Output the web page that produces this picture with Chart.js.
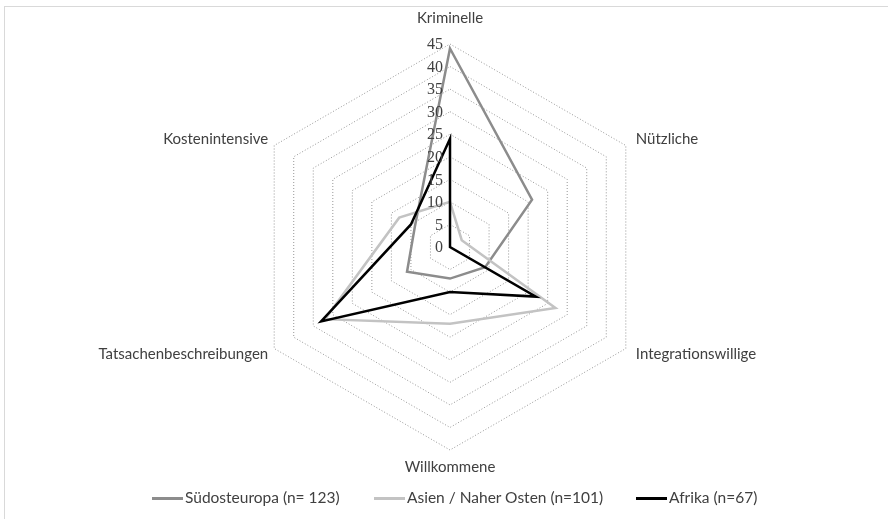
<!DOCTYPE html>
<html>
<head>
<meta charset="utf-8">
<script src="https://cdn.jsdelivr.net/npm/chart.js@4.4.1/dist/chart.umd.min.js"></script>
<style>
  html, body { margin: 0; padding: 0; background: #fff; }
  #wrap { position: relative; width: 888px; height: 519px; overflow: hidden; }
  #frame { position: absolute; left: 4px; top: 6px; width: 900px; height: 530px; border: 1px solid #d9d9d9; box-sizing: border-box; }
  #chart { position: absolute; left: 0; top: 0; }
  #legend { position: absolute; left: 0; top: 487px; width: 888px; height: 20px; }
  .item { position: absolute; top: 0; font: 15.5px Lato, sans-serif; color: #404040; white-space: nowrap; line-height: 20px; }
  .item i { display: inline-block; width: 31px; height: 0; border-top: 3px solid; vertical-align: middle; margin-right: 2px; position: relative; top: -1px; }
</style>
</head>
<body>
<div id="wrap">
  <div id="frame"></div>
  <canvas id="chart" width="888" height="519"></canvas>
  <div id="legend"></div>
</div>
<script>
// radar axes (clockwise from top)
const categories = ['Kriminelle', 'Nützliche', 'Integrationswillige', 'Willkommene', 'Tatsachenbeschreibungen', 'Kostenintensive'];

// values
const suedosteuropa = [44, 21, 9, 7, 11, 9];
const asienNaherOsten = [10, 3, 27, 17, 32, 13];
const afrika = [24, 0, 22, 10, 33, 10];

const seriesNames = ['Südosteuropa (n= 123)', 'Asien / Naher Osten (n=101)', 'Afrika (n=67)'];
const seriesColors = ['#8c8c8c', '#c3c3c3', '#000000'];
const tickValues = [0, 5, 10, 15, 20, 25, 30, 35, 40, 45];

// tick numbers + category names drawn next to the axis
const textPlugin = {
  id: 'radarText',
  afterDatasetsDraw(chart) {
    const s = chart.scales.r;
    const ctx = chart.ctx;
    ctx.save();
    ctx.fillStyle = '#404040';
    ctx.textBaseline = 'middle';

    ctx.font = '16px "Liberation Serif", serif';
    ctx.textAlign = 'right';
    tickValues.forEach(v => {
      const p = s.getPointPositionForValue(0, v);
      ctx.fillText(String(v), p.x - 7, p.y + 1);
    });

    ctx.font = '15px Lato, sans-serif';
    categories.forEach((name, i) => {
      const p = s.getPointPositionForValue(i, 45);
      const dx = p.x - s.xCenter;
      const dy = p.y - s.yCenter;
      if (Math.abs(dx) < 1) {
        ctx.textAlign = 'center';
        ctx.fillText(name, p.x, p.y + (dy < 0 ? -26 : 17));
      } else {
        ctx.textAlign = dx > 0 ? 'left' : 'right';
        ctx.fillText(name, p.x + (dx > 0 ? 10 : -6), p.y + (dy < 0 ? -6 : 6));
      }
    });
    ctx.restore();
  }
};

const datasets = [suedosteuropa, asienNaherOsten, afrika].map((vals, i) => ({
  label: seriesNames[i],
  data: vals,
  borderColor: seriesColors[i],
  backgroundColor: seriesColors[i],
  borderWidth: 2.5,
  pointRadius: 0,
  fill: false,
  order: 3 - i
}));

new Chart(document.getElementById('chart'), {
  type: 'radar',
  data: { labels: categories, datasets },
  options: {
    responsive: false,
    animation: false,
    layout: { padding: { top: 44, bottom: 69, left: 12, right: 0 } },
    plugins: { legend: { display: false }, tooltip: { enabled: false } },
    scales: {
      r: {
        min: 0,
        max: 45,
        ticks: { stepSize: 5, display: false },
        pointLabels: { display: false },
        angleLines: { display: false },
        grid: { color: '#969696', lineWidth: 1 },
        border: { dash: [1, 2] }
      }
    }
  },
  plugins: [textPlugin]
});

// legend
const legend = document.getElementById('legend');
const legendLeft = [152, 374, 636];
seriesNames.forEach((name, i) => {
  const el = document.createElement('span');
  el.className = 'item';
  el.style.left = legendLeft[i] + 'px';
  el.innerHTML = '<i style="border-color:' + seriesColors[i] + '"></i>' + name;
  legend.appendChild(el);
});
</script>
</body>
</html>
